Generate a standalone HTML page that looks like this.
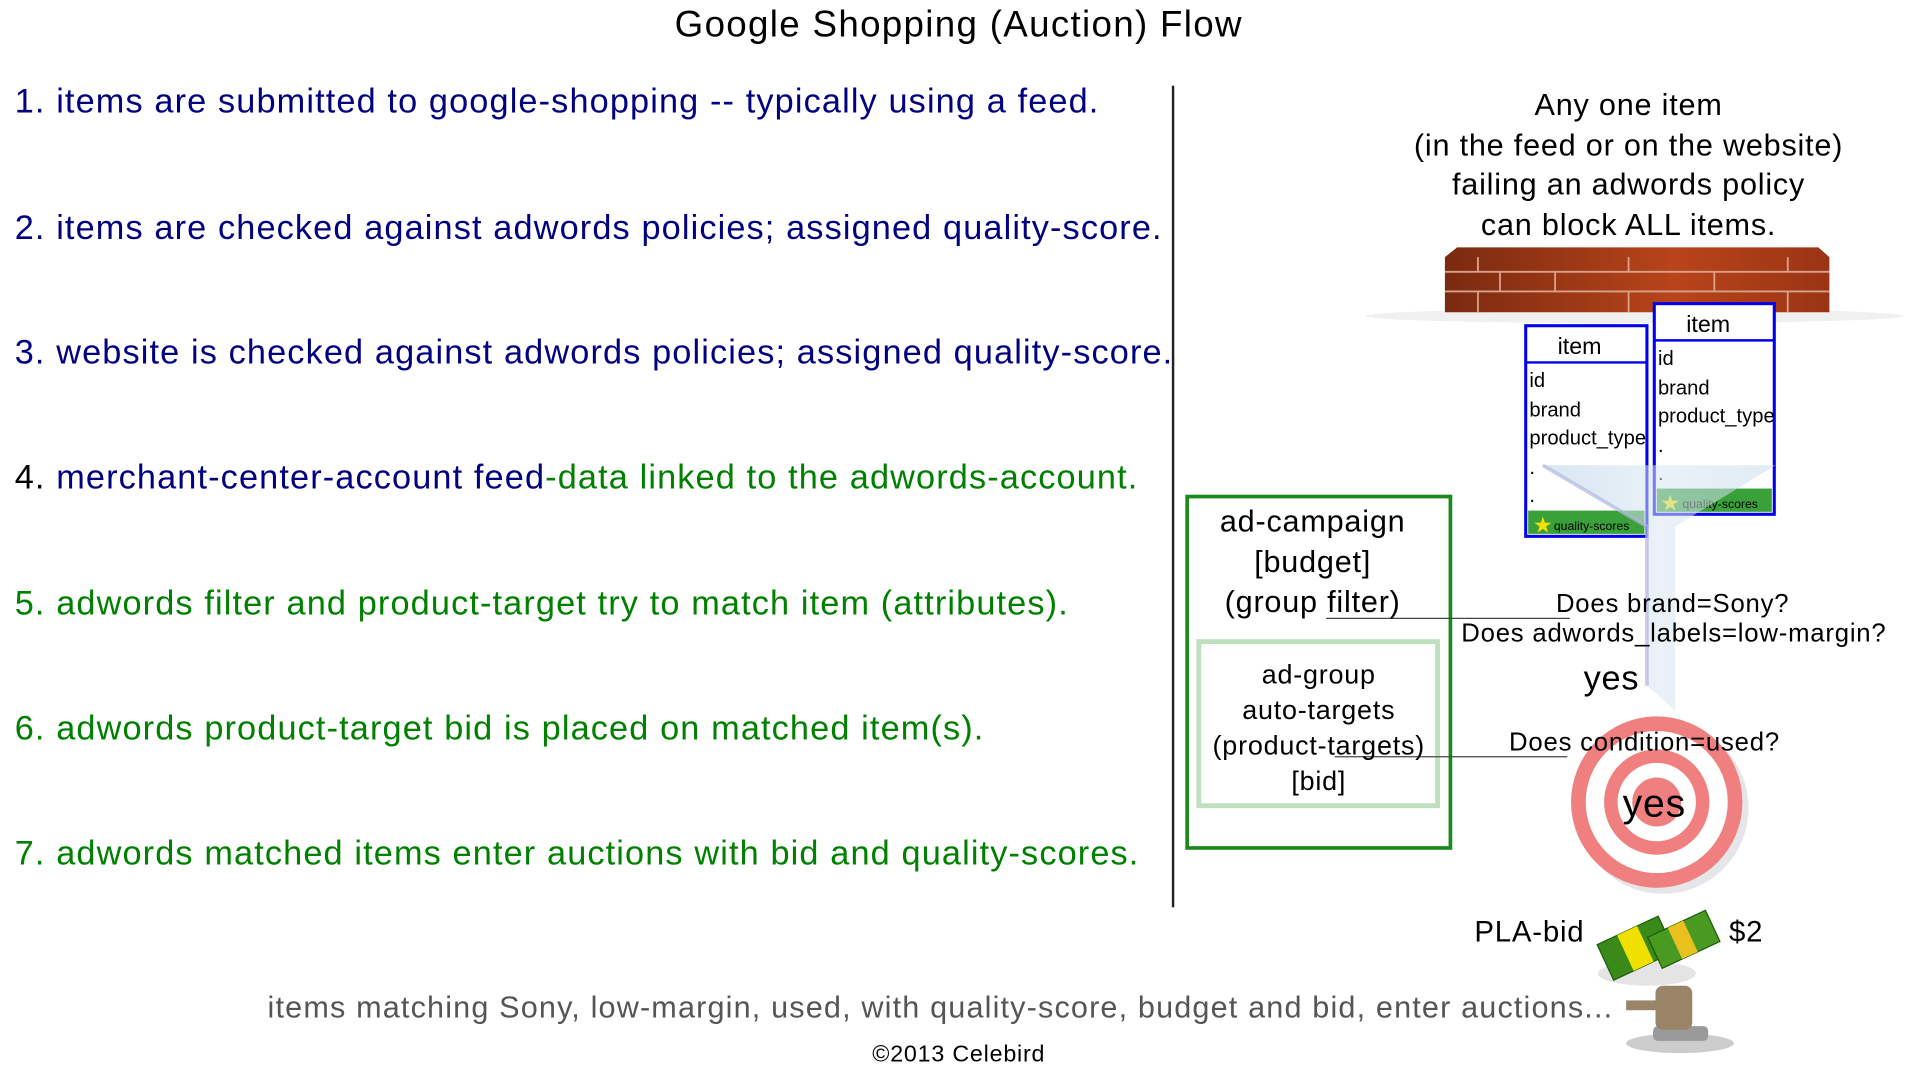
<!DOCTYPE html>
<html><head><meta charset="utf-8"><style>
html,body{margin:0;padding:0;background:#fff;overflow:hidden}
#wrap{width:1920px;height:1080px;position:relative;overflow:hidden}
#s{position:absolute;left:0;top:0;width:1568px;height:882px;transform-origin:0 0;transform:scale(1.22449,1.22449);font-family:"Liberation Sans",sans-serif;letter-spacing:0.64px}
.t{position:absolute;white-space:nowrap;line-height:1}
.c{transform:translateX(-50%)}
.n{color:#000080}.g{color:#008000}
.L{letter-spacing:0.92px}
svg text{font-family:"Liberation Sans",sans-serif;letter-spacing:0}
</style></head><body><div id="wrap"><div id="s">
<div class="t c" style="left:783px;top:6px;font-size:30px;letter-spacing:1.07px">Google Shopping (Auction) Flow</div>
<div class="t n L" style="left:12px;top:69px;font-size:28px">1. items are submitted to google-shopping -- typically using a feed.</div>
<div class="t n L" style="left:12px;top:172px;font-size:28px">2. items are checked against adwords policies; assigned quality-score.</div>
<div class="t n L" style="left:12px;top:274px;font-size:28px">3. website is checked against adwords policies; assigned quality-score.</div>
<div class="t L" style="left:12px;top:376px;font-size:28px"><span style="color:#000">4. </span><span class="n">merchant-center-account feed</span><span class="g">-data linked to the adwords-account.</span></div>
<div class="t g L" style="left:12px;top:479px;font-size:28px">5. adwords filter and product-target try to match item (attributes).</div>
<div class="t g L" style="left:12px;top:581px;font-size:28px">6. adwords product-target bid is placed on matched item(s).</div>
<div class="t g L" style="left:12px;top:683px;font-size:28px">7. adwords matched items enter auctions with bid and quality-scores.</div>
<div style="position:absolute;left:957px;top:70px;width:2px;height:671px;background:#222"></div>
<div class="t c" style="left:1330px;top:70px;font-size:25px;text-align:center;line-height:32.7px">Any one item<br>(in the feed or on the website)<br>failing an adwords policy<br>can block ALL items.</div>
<svg style="position:absolute;left:0;top:0" width="1568" height="882">
<defs>
<linearGradient id="br" x1="0" x2="1"><stop offset="0" stop-color="#7a2a10"/><stop offset=".6" stop-color="#b8441a"/><stop offset="1" stop-color="#9a3414"/></linearGradient>
<linearGradient id="fn" x1="0" x2="1"><stop offset="0" stop-color="#b8d0e8"/><stop offset=".5" stop-color="#d8e6f2"/><stop offset="1" stop-color="#c8dcee"/></linearGradient>
</defs>
<ellipse cx="1335" cy="258" rx="220" ry="6" fill="#f0f0f0"/>
<path d="M1180 210 L1190 202 L1485 202 L1494 210 L1494 255 L1180 255 Z" fill="url(#br)"/>
<g stroke="#d9a08a" stroke-width="1.5">
<line x1="1180" y1="222" x2="1494" y2="222"/><line x1="1180" y1="238" x2="1494" y2="238"/>
<line x1="1207" y1="210" x2="1207" y2="222"/><line x1="1330" y1="210" x2="1330" y2="222"/><line x1="1460" y1="210" x2="1460" y2="222"/>
<line x1="1270" y1="222" x2="1270" y2="238"/><line x1="1400" y1="222" x2="1400" y2="238"/><line x1="1225" y1="222" x2="1225" y2="238"/>
<line x1="1207" y1="238" x2="1207" y2="255"/><line x1="1330" y1="238" x2="1330" y2="255"/><line x1="1460" y1="238" x2="1460" y2="255"/>
</g>
<g font-size="16.5">
<rect x="1246" y="266" width="99" height="172" fill="#fff" stroke="#0000ee" stroke-width="2.5"/>
<line x1="1246" y1="296" x2="1345" y2="296" stroke="#0000ee" stroke-width="2"/>
<text x="1290" y="289" text-anchor="middle" font-size="19">item</text>
<text x="1249" y="316">id</text><text x="1249" y="340">brand</text><text x="1249" y="363">product_type</text>
<text x="1249" y="387">.</text><text x="1249" y="410">.</text>
<rect x="1248" y="417" width="95" height="19" fill="#3aa03a"/>
<text x="1269" y="433" font-size="10">quality-scores</text>
<text x="1252" y="435" font-size="18" fill="#f8e000">★</text>
<rect x="1351" y="248" width="98" height="172" fill="#fff" stroke="#0000ee" stroke-width="2.5"/>
<line x1="1351" y1="278" x2="1449" y2="278" stroke="#0000ee" stroke-width="2"/>
<text x="1395" y="271" text-anchor="middle" font-size="19">item</text>
<text x="1354" y="298">id</text><text x="1354" y="322">brand</text><text x="1354" y="345">product_type</text>
<text x="1354" y="369">.</text><text x="1354" y="392">.</text>
<rect x="1353" y="399" width="94" height="19" fill="#3aa03a"/>
<text x="1374" y="415" font-size="10">quality-scores</text>
<text x="1356" y="417" font-size="18" fill="#f8e000">★</text>
</g>
<path d="M1260 380 L1450 380 L1368 430 L1368 580 L1345 560 L1345 430 Z" fill="url(#fn)" opacity=".55"/>
<path d="M1260 380 L1345 430 L1345 560" fill="none" stroke="#b0b8e0" stroke-width="3" opacity=".7"/>
<rect x="969.5" y="405.5" width="215" height="287" fill="none" stroke="#1a8a1a" stroke-width="3"/>
<rect x="979" y="524" width="195" height="134" fill="none" stroke="#bfe0bf" stroke-width="4"/>
<line x1="1083" y1="505" x2="1282" y2="505" stroke="#444" stroke-width="1"/>
<line x1="1090" y1="618" x2="1280" y2="618" stroke="#444" stroke-width="1"/>
<circle cx="1358" cy="660" r="70" fill="#e6e6ea"/>
<circle cx="1353" cy="655" r="70" fill="#f08080"/>
<circle cx="1353" cy="655" r="58" fill="#fff"/>
<circle cx="1353" cy="655" r="43" fill="#f08080"/>
<circle cx="1353" cy="655" r="32" fill="#fff"/>
<circle cx="1353" cy="655" r="20" fill="#f08080"/>
<ellipse cx="1345" cy="795" rx="40" ry="10" fill="#e4e4e4"/>
<g transform="rotate(-25 1350 770)">
<rect x="1308" y="752" width="55" height="32" fill="#3a8a1a" stroke="#1e5a0a"/>
<rect x="1348" y="764" width="52" height="28" fill="#4a9a22" stroke="#1e5a0a"/>
<rect x="1326" y="752" width="18" height="32" fill="#f0e000"/>
<rect x="1366" y="764" width="14" height="28" fill="#e8c020"/>
</g>
<ellipse cx="1372" cy="852" rx="44" ry="8" fill="#ccc"/>
<rect x="1350" y="838" width="45" height="12" fill="#999" rx="4"/>
<rect x="1352" y="805" width="30" height="36" fill="#9a8468" rx="6"/>
<rect x="1328" y="817" width="28" height="8" fill="#9a8468"/>
</svg>
<div class="t c" style="left:1072px;top:410px;font-size:25px;text-align:center;line-height:33px">ad-campaign<br>[budget]<br>(group filter)</div>
<div class="t c" style="left:1077px;top:536px;font-size:22px;text-align:center;line-height:29px">ad-group<br>auto-targets<br>(product-targets)<br>[bid]</div>
<div class="t c" style="left:1366px;top:483px;font-size:21px">Does brand=Sony?</div>
<div class="t c" style="left:1367px;top:507px;font-size:21px">Does adwords_labels=low-margin?</div>
<div class="t c" style="left:1316px;top:540px;font-size:28px">yes</div>
<div class="t c" style="left:1343px;top:596px;font-size:21px">Does condition=used?</div>
<div class="t c" style="left:1351px;top:640px;font-size:32px">yes</div>
<div class="t c" style="left:1249px;top:750px;font-size:24px">PLA-bid</div>
<div class="t c" style="left:1426px;top:750px;font-size:24px">$2</div>
<div class="t c" style="left:768px;top:811px;font-size:25px;color:#555;letter-spacing:0.94px">items matching Sony, low-margin, used, with quality-score, budget and bid, enter auctions...</div>
<div class="t c" style="left:783px;top:852px;font-size:19px">©2013 Celebird</div>
</div></div></body></html>
